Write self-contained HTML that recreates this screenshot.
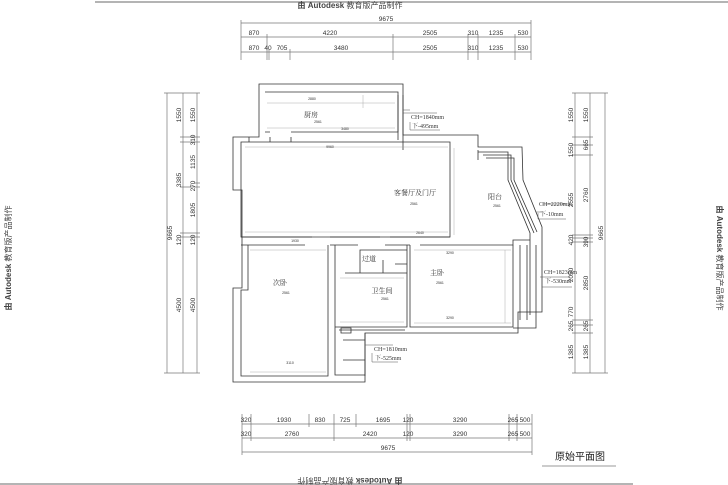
<!DOCTYPE html>
<html><head><meta charset="utf-8"><style>
html,body{margin:0;padding:0;background:#fff;}
svg{display:block;}
text{font-family:"Liberation Sans","Noto Sans CJK SC",sans-serif;fill:#333;}
.d{font-size:6.5px;text-anchor:middle;}
.s{font-size:3.5px;text-anchor:middle;fill:#555;}
.r{font-family:"Liberation Serif","Noto Serif CJK SC",serif;font-size:7px;fill:#333;}
</style></head><body>
<svg width="728" height="485" viewBox="0 0 728 485" xmlns="http://www.w3.org/2000/svg">
<rect width="728" height="485" fill="#fff"/>
<line x1="95" y1="2" x2="728" y2="2" stroke="#888" stroke-width="1.2"/>
<text x="350" y="8" style="font-size:8px;text-anchor:middle;fill:#444"><tspan font-weight="bold">由 Autodesk</tspan> 教育版产品制作</text>
<line x1="0" y1="484" x2="633" y2="484" stroke="#888" stroke-width="1.2"/>
<text transform="translate(350,478) rotate(180)" style="font-size:8px;text-anchor:middle;fill:#444"><tspan font-weight="bold">由 Autodesk</tspan> 教育版产品制作</text>
<text transform="translate(11,258) rotate(-90)" style="font-size:8px;text-anchor:middle;fill:#444"><tspan font-weight="bold">由 Autodesk</tspan> 教育版产品制作</text>
<text transform="translate(717,258) rotate(90)" style="font-size:8px;text-anchor:middle;fill:#444"><tspan font-weight="bold">由 Autodesk</tspan> 教育版产品制作</text>

<g stroke="#777" stroke-width="0.7" fill="none">
<!-- top dims -->
<line x1="241" y1="23" x2="531" y2="23"/><line x1="241" y1="37" x2="531" y2="37"/><line x1="241" y1="52" x2="531" y2="52"/>
<path d="M241 20V60M531 20V60M267 34V60M393 34V60M468 34V60M478 34V60M515 34V60M269 49V60M290 49V60"/>
<!-- bottom dims -->
<line x1="242" y1="424" x2="532" y2="424"/><line x1="242" y1="438" x2="532" y2="438"/><line x1="242" y1="452" x2="532" y2="452"/>
<path d="M242 414V455M532 414V455M251 414V441M309 414V427M334 414V441M356 414V427M407 414V441M410 414V441M509 414V441M517 414V441"/>
<!-- left dims -->
<line x1="167" y1="93" x2="167" y2="373"/><line x1="183" y1="93" x2="183" y2="373"/><line x1="197" y1="93" x2="197" y2="373"/>
<path d="M164 93H200M164 373H200M180 137H200M180 142H200M194 183H200M180 187H200M180 233H200M180 237H200"/>
<!-- right dims -->
<line x1="575" y1="93" x2="575" y2="373"/><line x1="590" y1="93" x2="590" y2="373"/><line x1="605" y1="93" x2="605" y2="373"/>
<path d="M572 93H608M572 373H608M572 137H593M572 145H593M572 155H593M572 235H593M572 238H593M572 242H593M572 320H593M572 325H593M572 333H593"/>
</g>
<g class="dims">
<text class="d" x="386" y="21">9675</text>
<text class="d" x="254" y="35">870</text><text class="d" x="330" y="35">4220</text><text class="d" x="430" y="35">2505</text><text class="d" x="473" y="35">310</text><text class="d" x="496" y="35">1235</text><text class="d" x="523" y="35">530</text>
<text class="d" x="254" y="50">870</text><text class="d" x="268" y="50">40</text><text class="d" x="282" y="50">705</text><text class="d" x="341" y="50">3480</text><text class="d" x="430" y="50">2505</text><text class="d" x="473" y="50">310</text><text class="d" x="496" y="50">1235</text><text class="d" x="523" y="50">530</text>
<text class="d" x="246" y="422">320</text><text class="d" x="284" y="422">1930</text><text class="d" x="320" y="422">830</text><text class="d" x="345" y="422">725</text><text class="d" x="383" y="422">1695</text><text class="d" x="408" y="422">120</text><text class="d" x="460" y="422">3290</text><text class="d" x="513" y="422">265</text><text class="d" x="525" y="422">500</text>
<text class="d" x="246" y="436">320</text><text class="d" x="292" y="436">2760</text><text class="d" x="370" y="436">2420</text><text class="d" x="408" y="436">120</text><text class="d" x="460" y="436">3290</text><text class="d" x="513" y="436">265</text><text class="d" x="525" y="436">500</text>
<text class="d" x="388" y="450">9675</text>
<text class="d" transform="translate(172,233) rotate(-90)">9665</text>
<text class="d" transform="translate(181,115) rotate(-90)">1550</text><text class="d" transform="translate(181,180) rotate(-90)">3385</text><text class="d" transform="translate(181,240) rotate(-90)">120</text><text class="d" transform="translate(181,305) rotate(-90)">4500</text>
<text class="d" transform="translate(195,115) rotate(-90)">1550</text><text class="d" transform="translate(195,140) rotate(-90)">310</text><text class="d" transform="translate(195,162) rotate(-90)">1135</text><text class="d" transform="translate(195,186) rotate(-90)">270</text><text class="d" transform="translate(195,210) rotate(-90)">1805</text><text class="d" transform="translate(195,240) rotate(-90)">120</text><text class="d" transform="translate(195,305) rotate(-90)">4500</text>
<text class="d" transform="translate(573,115) rotate(-90)">1550</text><text class="d" transform="translate(573,150) rotate(-90)">1550</text><text class="d" transform="translate(573,200) rotate(-90)">2555</text><text class="d" transform="translate(573,240) rotate(-90)">420</text><text class="d" transform="translate(573,275) rotate(-90)">2050</text><text class="d" transform="translate(573,312) rotate(-90)">770</text><text class="d" transform="translate(573,326) rotate(-90)">265</text><text class="d" transform="translate(573,352) rotate(-90)">1385</text>
<text class="d" transform="translate(588,115) rotate(-90)">1550</text><text class="d" transform="translate(588,145) rotate(-90)">665</text><text class="d" transform="translate(588,195) rotate(-90)">2760</text><text class="d" transform="translate(588,242) rotate(-90)">390</text><text class="d" transform="translate(588,283) rotate(-90)">2850</text><text class="d" transform="translate(588,326) rotate(-90)">265</text><text class="d" transform="translate(588,352) rotate(-90)">1385</text>
<text class="d" transform="translate(603,233) rotate(-90)">9665</text>
</g>

<!-- walls -->
<g stroke="#333" stroke-width="0.8" fill="none">
<path d="M259 84H403V135H478V147H522L523 180L542 227V312H518V333H365V382H233V288H242V190H233V137H259Z"/>
<path d="M265 92H398V132H291M270 132H265Z"/>
<path d="M241 142H450V237H241Z"/>
<path d="M249 137V142M270 142V137M291 137V142" />
<path d="M478 152H508V180L530 233V315M513 328H536V245"/>
<path d="M483 155H511V180L534 233M486 158H514V180L537 232"/>
<path d="M241 245H305M330 245H358M385 245H410M420 245H513V240H530"/>
<path d="M241 237H312M330 237H380M390 237H450"/>
<path d="M248 245V290H241V376H328V245"/>
<path d="M335 245V375H365M335 327H407V245M339 330H405"/>
<path d="M410 245V327H513V245M407 250H360V258M345 273H407M360 258V273"/>
<path d="M383 273V260M395 264H407"/>
<path d="M403 95V150M398 95V140M478 150V160"/>
<path d="M365 333V376M343 340H365M343 360H365"/>
<path d="M520 245V320M527 245V320"/>
<path d="M341 333H351V328H341Z"/>
</g>
<g stroke="#999" stroke-width="0.4" fill="none">
<path d="M267 103H395M267 128H395M245 147H448M245 232H448M250 250H326M250 372H326M414 250H511M414 323H511M340 278H404M340 322H404M505 250V323M454 148V235"/>
<path d="M363 95V108"/>
</g>

<!-- room labels -->
<text class="r" x="311" y="117" text-anchor="middle">厨房</text>
<text class="r" x="415" y="195" text-anchor="middle">客餐厅及门厅</text>
<text class="r" x="495" y="199" text-anchor="middle">阳台</text>
<text class="r" x="280" y="285" text-anchor="middle">次卧</text>
<text class="r" x="369" y="261" text-anchor="middle">过道</text>
<text class="r" x="382" y="293" text-anchor="middle">卫生间</text>
<text class="r" x="437" y="275" text-anchor="middle">主卧</text>
<g class="s"><text x="318" y="123">2561</text><text x="414" y="205">2561</text><text x="497" y="207">2561</text><text x="286" y="294">2561</text><text x="385" y="300">2561</text><text x="440" y="284">2561</text>
<text x="330" y="148">9960</text><text x="312" y="100">2880</text><text x="345" y="130">3480</text><text x="420" y="234">2640</text><text x="295" y="242">1930</text><text x="450" y="254">3290</text><text x="450" y="319">3290</text><text x="290" y="364">3110</text></g>

<!-- CH notes -->
<g stroke="#555" stroke-width="0.5" fill="none">
<path d="M403 113H437M410 122V130H440M542 204H566M538 213V219H566M540 277H570M542 270V287H572M365 345H393M372 353V362H398M403 110H410M536 212H542"/>
</g>
<text class="r" x="411" y="119" style="font-size:6px">CH=1840mm</text><text class="r" x="412" y="128" style="font-size:6px">下-495mm</text>
<text class="r" x="539" y="206" style="font-size:6px">CH=2220mm</text><text class="r" x="540" y="216" style="font-size:6px">下-10mm</text>
<text class="r" x="544" y="274" style="font-size:6px">CH=1823mm</text><text class="r" x="545" y="283" style="font-size:6px">下-530mm</text>
<text class="r" x="374" y="351" style="font-size:6px">CH=1810mm</text><text class="r" x="375" y="360" style="font-size:6px">下-525mm</text>

<text x="580" y="460" style="font-size:10px;text-anchor:middle;fill:#222;font-family:'Noto Sans CJK SC',sans-serif">原始平面图</text>
<line x1="542" y1="466" x2="616" y2="466" stroke="#777" stroke-width="0.7"/>
</svg>
</body></html>
